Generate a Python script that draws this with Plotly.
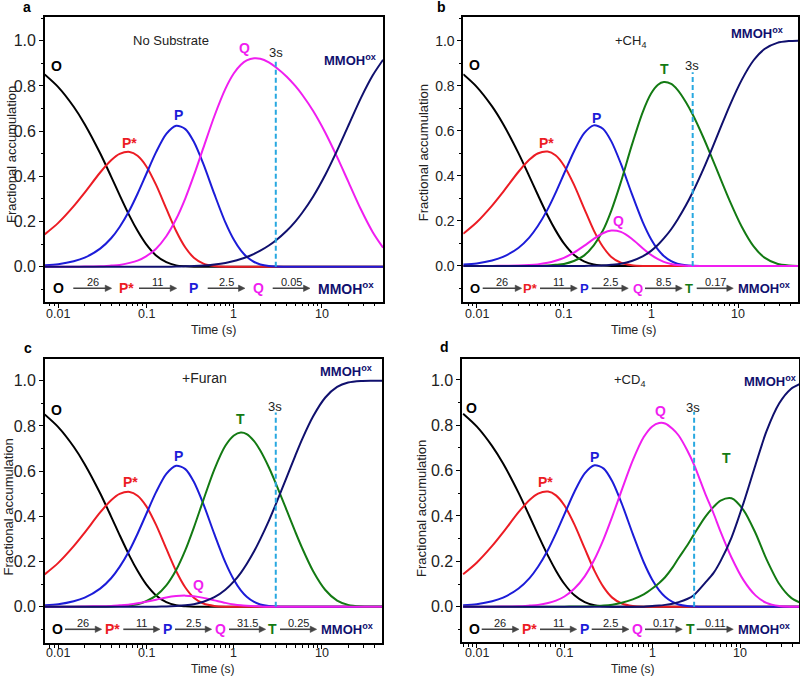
import math
import plotly.graph_objects as go

# ---------------- data ----------------
time_s = [0.007, 0.01, 0.015, 0.02, 0.03, 0.04, 0.05, 0.065, 0.08, 0.1,
          0.13, 0.17, 0.22, 0.28, 0.35, 0.45, 0.6, 0.8, 1.0, 1.2,
          1.4, 1.7, 2.0, 2.5, 3.0, 4.0, 5.0, 6.0, 8.0, 11,
          15, 20, 28, 38, 50]

O_frac = [0.851, 0.795, 0.708, 0.631, 0.502, 0.399, 0.317, 0.224, 0.159, 0.100,
          0.050, 0.020, 0.006, 0.002, 0.000, 0.000, 0.000, 0.000, 0.000, 0.000,
          0.000, 0.000, 0.000, 0.000, 0.000, 0.000, 0.000, 0.000, 0.000, 0.000,
          0.000, 0.000, 0.000, 0.000, 0.000]
Pstar_frac = [0.143, 0.194, 0.268, 0.328, 0.417, 0.471, 0.499, 0.508, 0.491, 0.446,
              0.362, 0.257, 0.158, 0.085, 0.040, 0.014, 0.003, 0.000, 0.000, 0.000,
              0.000, 0.000, 0.000, 0.000, 0.000, 0.000, 0.000, 0.000, 0.000, 0.000,
              0.000, 0.000, 0.000, 0.000, 0.000]
P_frac = [0.006, 0.011, 0.024, 0.040, 0.080, 0.126, 0.176, 0.251, 0.323, 0.408,
          0.507, 0.588, 0.624, 0.609, 0.553, 0.454, 0.321, 0.196, 0.119, 0.072,
          0.044, 0.021, 0.010, 0.003, 0.001, 0.000, 0.000, 0.000, 0.000, 0.000,
          0.000, 0.000, 0.000, 0.000, 0.000]

# panel a: no substrate
a_Q = [0.000, 0.000, 0.000, 0.001, 0.002, 0.005, 0.008, 0.017, 0.027, 0.046,
       0.080, 0.135, 0.211, 0.303, 0.404, 0.527, 0.667, 0.787, 0.856, 0.894,
       0.913, 0.922, 0.920, 0.904, 0.883, 0.841, 0.800, 0.761, 0.689, 0.593,
       0.485, 0.378, 0.253, 0.154, 0.084]
a_MMOH = [0.000, 0.000, 0.000, 0.000, 0.000, 0.000, 0.000, 0.000, 0.000, 0.000,
          0.000, 0.000, 0.001, 0.002, 0.003, 0.005, 0.010, 0.017, 0.025, 0.034,
          0.043, 0.057, 0.071, 0.094, 0.116, 0.159, 0.200, 0.239, 0.311, 0.407,
          0.515, 0.622, 0.747, 0.846, 0.916]

# panel b: +CH4
b_Q = [0.000, 0.000, 0.000, 0.001, 0.002, 0.004, 0.007, 0.014, 0.023, 0.036,
       0.059, 0.089, 0.120, 0.145, 0.157, 0.151, 0.121, 0.079, 0.049, 0.030,
       0.018, 0.009, 0.004, 0.001, 0.000, 0.000, 0.000, 0.000, 0.000, 0.000,
       0.000, 0.000, 0.000, 0.000, 0.000]
b_T = [0.000, 0.000, 0.000, 0.000, 0.000, 0.000, 0.001, 0.002, 0.005, 0.009,
       0.022, 0.046, 0.091, 0.157, 0.246, 0.372, 0.535, 0.682, 0.765, 0.804,
       0.816, 0.808, 0.783, 0.728, 0.672, 0.568, 0.479, 0.404, 0.288, 0.173,
       0.087, 0.037, 0.010, 0.002, 0.000]
b_MMOH = [0.000, 0.000, 0.000, 0.000, 0.000, 0.000, 0.000, 0.000, 0.000, 0.000,
          0.000, 0.000, 0.001, 0.002, 0.005, 0.010, 0.022, 0.042, 0.067, 0.094,
          0.122, 0.163, 0.204, 0.268, 0.327, 0.432, 0.521, 0.596, 0.713, 0.827,
          0.913, 0.963, 0.990, 0.998, 1.000]

# panel c: +Furan
c_Q = [0.000, 0.000, 0.000, 0.001, 0.002, 0.003, 0.006, 0.010, 0.015, 0.022,
       0.031, 0.041, 0.047, 0.049, 0.046, 0.039, 0.028, 0.017, 0.010, 0.006,
       0.004, 0.002, 0.001, 0.000, 0.000, 0.000, 0.000, 0.000, 0.000, 0.000,
       0.000, 0.000, 0.000, 0.000, 0.000]
c_T = [0.000, 0.000, 0.000, 0.000, 0.000, 0.001, 0.003, 0.006, 0.011, 0.024,
       0.049, 0.094, 0.162, 0.250, 0.350, 0.473, 0.608, 0.712, 0.758, 0.771,
       0.764, 0.733, 0.691, 0.617, 0.546, 0.426, 0.332, 0.259, 0.157, 0.074,
       0.027, 0.008, 0.001, 0.000, 0.000]
c_MMOH = [0.000, 0.000, 0.000, 0.000, 0.000, 0.000, 0.000, 0.000, 0.000, 0.000,
          0.000, 0.001, 0.003, 0.006, 0.011, 0.022, 0.042, 0.075, 0.112, 0.150,
          0.189, 0.245, 0.299, 0.380, 0.453, 0.574, 0.668, 0.742, 0.843, 0.926,
          0.973, 0.992, 0.999, 1.000, 1.000]

# panel d: +CD4
d_Q = [0.000, 0.000, 0.000, 0.001, 0.002, 0.005, 0.008, 0.016, 0.027, 0.045,
       0.080, 0.134, 0.209, 0.299, 0.397, 0.515, 0.645, 0.748, 0.795, 0.810,
       0.808, 0.785, 0.755, 0.690, 0.625, 0.500, 0.411, 0.331, 0.217, 0.116,
       0.050, 0.017, 0.003, 0.000, 0.000]
d_T = [0.000, 0.000, 0.000, 0.000, 0.000, 0.000, 0.000, 0.000, 0.000, 0.000,
       0.001, 0.001, 0.003, 0.005, 0.009, 0.017, 0.032, 0.054, 0.080, 0.105,
       0.130, 0.172, 0.215, 0.270, 0.320, 0.395, 0.440, 0.468, 0.478, 0.425,
       0.325, 0.210, 0.100, 0.040, 0.015]
d_MMOH = [0.000, 0.000, 0.000, 0.000, 0.000, 0.000, 0.000, 0.000, 0.000, 0.000,
          0.000, 0.000, 0.000, 0.000, 0.000, 0.000, 0.000, 0.000, 0.003, 0.005,
          0.008, 0.013, 0.020, 0.034, 0.052, 0.105, 0.149, 0.201, 0.305, 0.459,
          0.625, 0.773, 0.897, 0.960, 0.985]

marker_time = 3
marker_top = [0.92, 0.86, 0.86, 0.86]

x_ticks = [0.01, 0.1, 1, 10]
x_ticktext = ["0.01", "0.1", "1", "10"]
y_ticks = [0.0, 0.2, 0.4, 0.6, 0.8, 1.0]

# scheme rates per panel
rates_a = ["26", "11", "2.5", "0.05"]
rates_b = ["26", "11", "2.5", "8.5", "0.17"]
rates_c = ["26", "11", "2.5", "31.5", "0.25"]
rates_d = ["26", "11", "2.5", "0.17", "0.11"]

# ---------------- style ----------------
FONT = "Liberation Sans, Arial, Helvetica, sans-serif"
C_O = "#000000"
C_PS = "#ec1c24"
C_P = "#1c1cd8"
C_Q = "#f01ef0"
C_T = "#137a13"
C_M = "#10106e"
C_DASH = "#28a8e0"
C_ARROW = "#444444"
W, H = 800, 676


def px(x):
    return x / W


def py(y):
    return 1 - y / H


fig = go.Figure()

panels = [
    dict(ax="", Q=a_Q, T=None, M=a_MMOH),
    dict(ax="2", Q=b_Q, T=b_T, M=b_MMOH),
    dict(ax="3", Q=c_Q, T=c_T, M=c_MMOH),
    dict(ax="4", Q=d_Q, T=d_T, M=d_MMOH),
]

for i, p in enumerate(panels):
    xa, ya = "x" + p["ax"], "y" + p["ax"]
    series = [(O_frac, C_O), (Pstar_frac, C_PS), (P_frac, C_P)]
    if p["T"] is not None:
        series.append((p["T"], C_T))
    series.append((p["Q"], C_Q))
    series.append((p["M"], C_M))
    for ys, col in series:
        fig.add_trace(go.Scatter(x=time_s, y=ys, mode="lines", xaxis=xa, yaxis=ya,
                                 line=dict(color=col, width=2, shape="spline", smoothing=0.8),
                                 hoverinfo="skip", showlegend=False))
    fig.add_trace(go.Scatter(x=[marker_time, marker_time], y=[0, marker_top[i]], mode="lines",
                             xaxis=xa, yaxis=ya,
                             line=dict(color=C_DASH, width=2, dash="5px,3px"),
                             hoverinfo="skip", showlegend=False))

# axes geometry (pixels)
geo = [
    dict(x0=45, x1=383, y0=17, y1=302, xr=[-2.151, 1.698], yr=[-0.156, 1.105], yfs=16, tl=313.5),
    dict(x0=463.3, x1=798, y0=17, y1=302, xr=[-2.154, 1.685], yr=[-0.160, 1.105], yfs=14, tl=313.5),
    dict(x0=45, x1=382, y0=359.3, y1=643.3, xr=[-2.151, 1.687], yr=[-0.162, 1.095], yfs=16, tl=653),
    dict(x0=462.3, x1=799, y0=359.3, y1=642.3, xr=[-2.164, 1.672], yr=[-0.157, 1.091], yfs=16, tl=653),
]
minor_x = [m * 10 ** e for e in range(-3, 2) for m in range(2, 10)]

layout = dict(width=W, height=H, margin=dict(l=0, r=0, t=0, b=0),
              paper_bgcolor="white", plot_bgcolor="white", showlegend=False,
              font=dict(family=FONT, color="#222"))
for i, g in enumerate(geo):
    s = "" if i == 0 else str(i + 1)
    layout["xaxis" + s] = dict(
        type="log", domain=[px(g["x0"]), px(g["x1"])], range=g["xr"], anchor="y" + s,
        tickvals=x_ticks, showticklabels=False, ticks="outside", ticklen=4, tickwidth=1.2,
        tickcolor="black", showgrid=False, zeroline=False, showline=True, mirror=True,
        linecolor="black", linewidth=1.8,
        minor=dict(tickvals=minor_x, ticks="outside", ticklen=2.5, tickwidth=1, tickcolor="black"))
    layout["yaxis" + s] = dict(
        domain=[py(g["y1"]), py(g["y0"])], range=g["yr"], anchor="x" + s,
        tickvals=y_ticks, tickformat=".1f", ticks="outside", ticklen=4, tickwidth=1.2,
        tickcolor="black", showgrid=False, zeroline=False, showline=True, mirror=True,
        linecolor="black", linewidth=1.8, tickfont=dict(size=g["yfs"], family=FONT, color="#222"),
        minor=dict(dtick=0.1, ticks="outside", ticklen=2.5, tickwidth=1, tickcolor="black"))
fig.update_layout(**layout)

ann = []
shapes = []

# x tick labels as text placed on the log axes
for i, g in enumerate(geo):
    s = "" if i == 0 else str(i + 1)
    for v, t in zip(x_ticks, x_ticktext):
        ann.append(dict(x=math.log10(v), xref="x" + s, y=py(g["tl"]), yref="paper", text=t,
                        showarrow=False, xanchor="center", yanchor="middle",
                        font=dict(family=FONT, size=12.5, color="#222")))


def txt(x, y, t, size=13, color="#222", bold=False, angle=0, anchor="center"):
    if bold:
        t = "<b>" + t + "</b>"
    ann.append(dict(x=px(x), y=py(y), xref="paper", yref="paper", text=t, showarrow=False,
                    xanchor=anchor, yanchor="middle", textangle=angle,
                    font=dict(family=FONT, size=size, color=color)))


def arrow(x0, x1, y, label):
    hl, hw = 6.5, 3.2
    shapes.append(dict(type="line", xref="paper", yref="paper",
                       x0=px(x0), x1=px(x1 - hl + 1), y0=py(y), y1=py(y),
                       line=dict(color=C_ARROW, width=1.6)))
    path = "M {:.5f},{:.5f} L {:.5f},{:.5f} L {:.5f},{:.5f} Z".format(
        px(x1), py(y), px(x1 - hl), py(y - hw), px(x1 - hl), py(y + hw))
    shapes.append(dict(type="path", xref="paper", yref="paper", path=path,
                       fillcolor=C_ARROW, line=dict(color=C_ARROW, width=0.5)))
    txt((x0 + x1) / 2, y - 6, label, size=11, color="#222")


MM = "MMOH<sup>ox</sup>"

# panel a
txt(26.7, 6.7, "a", 14, "black", True)
txt(171, 40.7, "No Substrate", 13)
txt(56.7, 65.7, "O", 14, C_O, True)
txt(129.7, 143.3, "P*", 14, C_PS, True)
txt(178.3, 115, "P", 14, C_P, True)
txt(244.3, 47.7, "Q", 14, C_Q, True)
txt(276, 52.3, "3s", 13)
txt(350, 60, MM, 13, C_M, True)
txt(11, 155, "Fractional accumulation", 13, angle=-90)
txt(213, 330, "Time (s)", 12.5)
ys = 288.3
txt(58.3, ys, "O", 14, C_O, True)
arrow(73.3, 111.7, ys, rates_a[0])
txt(126, ys, "P*", 14, C_PS, True)
arrow(139, 176.7, ys, rates_a[1])
txt(193.3, ys, "P", 14, C_P, True)
arrow(207.7, 245, ys, rates_a[2])
txt(258.3, ys, "Q", 14, C_Q, True)
arrow(272.7, 310, ys, rates_a[3])
txt(346, ys, MM, 14, C_M, True)

# panel b
txt(441.7, 6.7, "b", 14, "black", True)
txt(630, 41.7, "+CH<sub>4</sub>", 13)
txt(474, 65, "O", 14, C_O, True)
txt(546.7, 143.3, "P*", 14, C_PS, True)
txt(596, 118.3, "P", 14, C_P, True)
txt(618.3, 221, "Q", 14, C_Q, True)
txt(664, 69.3, "T", 14, C_T, True)
txt(692, 65.7, "3s", 13)
txt(757, 33.3, MM, 13, C_M, True)
txt(423, 153.3, "Fractional accumulation", 13, angle=-90)
txt(633, 330, "Time (s)", 12.5)
txt(475, ys, "O", 13, C_O, True)
arrow(482.7, 521.7, ys, rates_b[0])
txt(530, ys, "P*", 13, C_PS, True)
arrow(540, 577.3, ys, rates_b[1])
txt(584, ys, "P", 13, C_P, True)
arrow(591.7, 628.3, ys, rates_b[2])
txt(637.7, ys, "Q", 13, C_Q, True)
arrow(645, 682.3, ys, rates_b[3])
txt(689.3, ys, "T", 13, C_T, True)
arrow(696.7, 733.3, ys, rates_b[4])
txt(764, ys, MM, 13, C_M, True)

# panel c
txt(28.3, 348.3, "c", 14, "black", True)
txt(205, 378.3, "+Furan", 14)
txt(56.7, 410, "O", 14, C_O, True)
txt(130, 481.7, "P*", 14, C_PS, True)
txt(178.3, 456, "P", 14, C_P, True)
txt(198.3, 585, "Q", 14, C_Q, True)
txt(240, 419.3, "T", 14, C_T, True)
txt(275.3, 406, "3s", 13)
txt(346, 370.7, MM, 13, C_M, True)
txt(8, 507.5, "Fractional accumulation", 13, angle=-90)
txt(213.3, 668.5, "Time (s)", 12)
ys2 = 629.3
txt(57.3, ys2, "O", 14, C_O, True)
arrow(65, 101.7, ys2, rates_c[0])
txt(112.3, ys2, "P*", 14, C_PS, True)
arrow(123.3, 160, ys2, rates_c[1])
txt(167.7, ys2, "P", 14, C_P, True)
arrow(175, 211.7, ys2, rates_c[2])
txt(220.7, ys2, "Q", 14, C_Q, True)
arrow(229, 265.7, ys2, rates_c[3])
txt(272.7, ys2, "T", 14, C_T, True)
arrow(280, 316.7, ys2, rates_c[4])
txt(347, ys2, MM, 13, C_M, True)

# panel d
txt(444, 346.7, "d", 14, "black", True)
txt(629.3, 380, "+CD<sub>4</sub>", 13)
txt(471.7, 407.7, "O", 14, C_O, True)
txt(545.7, 481.7, "P*", 14, C_PS, True)
txt(594, 456.7, "P", 14, C_P, True)
txt(660, 411, "Q", 14, C_Q, True)
txt(726.7, 457.7, "T", 14, C_T, True)
txt(693.3, 407.7, "3s", 13)
txt(770, 380.7, MM, 13, C_M, True)
txt(421.7, 508.3, "Fractional accumulation", 13, angle=-90)
txt(633.3, 668.5, "Time (s)", 12)
txt(474, ys2, "O", 14, C_O, True)
arrow(481.7, 519, ys2, rates_d[0])
txt(529.3, ys2, "P*", 14, C_PS, True)
arrow(540, 576.7, ys2, rates_d[1])
txt(584.3, ys2, "P", 14, C_P, True)
arrow(591.7, 629, ys2, rates_d[2])
txt(637.3, ys2, "Q", 14, C_Q, True)
arrow(645, 682.3, ys2, rates_d[3])
txt(690, ys2, "T", 14, C_T, True)
arrow(696.7, 733.3, ys2, rates_d[4])
txt(763.5, ys2, MM, 13, C_M, True)

fig.update_layout(annotations=ann, shapes=shapes)
fig.write_html(
    "out.html",
    config={"displayModeBar": False},
    post_script="document.body.style.margin='0';document.body.style.padding='0';"
                "document.documentElement.style.overflow='hidden';")
